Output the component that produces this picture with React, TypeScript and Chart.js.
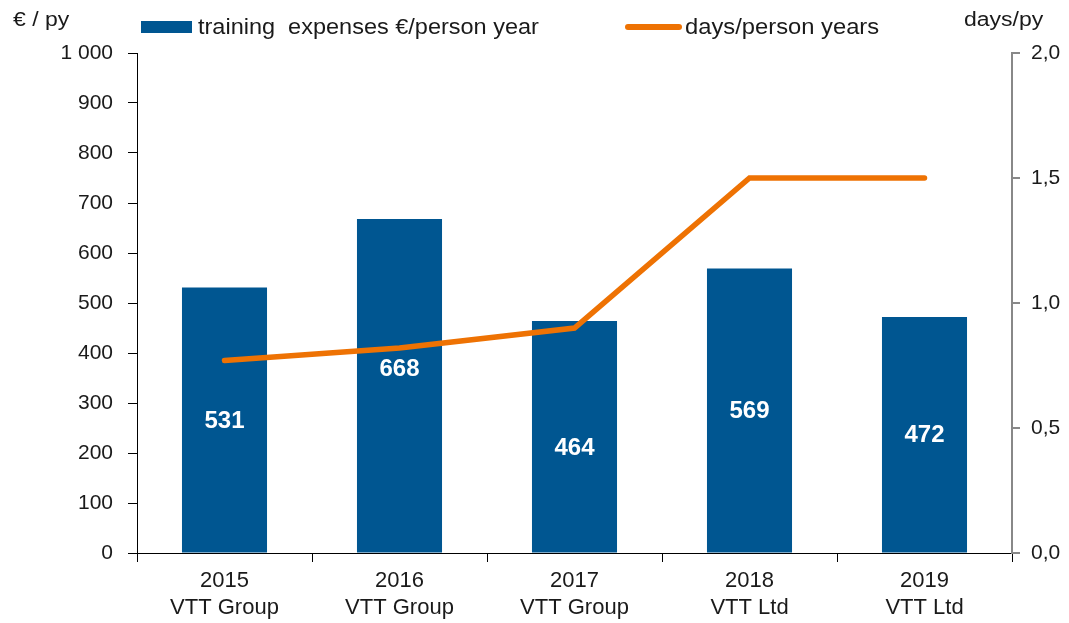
import React, { useEffect, useRef } from 'react';
import { Chart, registerables } from 'chart.js';

Chart.register(...registerables);

const years = ['2015', '2016', '2017', '2018', '2019'];
const entities = ['VTT Group', 'VTT Group', 'VTT Group', 'VTT Ltd', 'VTT Ltd'];
const expenses = [531, 668, 464, 569, 472];
const daysPerPy = [0.77, 0.82, 0.9, 1.5, 1.5];
const barLabel = 'training  expenses €/person year';
const lineLabel = 'days/person years';
const leftTitle = '€ / py';
const rightTitle = 'days/py';

// pixel nudges for value labels inside bars (relative to bar middle)
const labelNudge = [1, -16, 12, 1, 1];

const FONT = "'Liberation Sans', Arial, sans-serif";
const BLUE = '#005691';
const ORANGE = '#EE7203';
const TEXT = '#1a1a1a';

function drawStretched(ctx: CanvasRenderingContext2D, text: string, x: number, y: number, sx: number) {
  ctx.save();
  ctx.translate(x, y);
  ctx.scale(sx, 1);
  ctx.fillText(text, 0, 0);
  ctx.restore();
}

export default function App() {
  const ref = useRef<HTMLCanvasElement | null>(null);

  useEffect(() => {
    const canvas = ref.current;
    if (!canvas) return;

    const overlay = {
      id: 'overlay',
      afterDatasetsDraw(chart: any) {
        const ctx = chart.ctx;
        const meta = chart.getDatasetMeta(0);
        ctx.save();
        ctx.fillStyle = '#ffffff';
        ctx.font = `bold 24px ${FONT}`;
        ctx.textAlign = 'center';
        ctx.textBaseline = 'middle';
        meta.data.forEach((bar: any, i: number) => {
          const mid = (bar.y + bar.base) / 2 + labelNudge[i];
          ctx.fillText(String(expenses[i]), bar.x, mid);
        });
        ctx.restore();
      },
      afterDraw(chart: any) {
        const ctx = chart.ctx;
        ctx.save();
        // legend
        ctx.fillStyle = BLUE;
        ctx.fillRect(141, 21, 51, 12);
        ctx.fillStyle = TEXT;
        ctx.font = `22px ${FONT}`;
        ctx.textBaseline = 'middle';
        ctx.textAlign = 'left';
        drawStretched(ctx, barLabel, 198, 28, 1.068);
        ctx.strokeStyle = ORANGE;
        ctx.lineWidth = 6;
        ctx.lineCap = 'round';
        ctx.beginPath();
        ctx.moveTo(628, 27);
        ctx.lineTo(679, 27);
        ctx.stroke();
        drawStretched(ctx, lineLabel, 685, 28, 1.08);
        // axis titles
        ctx.font = `20px ${FONT}`;
        drawStretched(ctx, leftTitle, 13, 20, 1.15);
        drawStretched(ctx, rightTitle, 964, 20, 1.15);
        ctx.restore();
      },
    };

    const chart = new Chart(canvas, {
      type: 'bar',
      data: {
        labels: years.map((y, i) => [y, entities[i]]),
        datasets: [
          {
            type: 'bar',
            label: barLabel,
            data: expenses,
            backgroundColor: BLUE,
            barPercentage: 0.486,
            categoryPercentage: 1,
            yAxisID: 'y',
            order: 2,
          },
          {
            type: 'line',
            label: lineLabel,
            data: daysPerPy,
            borderColor: ORANGE,
            borderWidth: 5.5,
            borderCapStyle: 'round',
            borderJoinStyle: 'miter',
            pointRadius: 0,
            tension: 0,
            yAxisID: 'y1',
            order: 1,
          },
        ],
      },
      options: {
        responsive: false,
        animation: false,
        layout: { padding: { top: 53, left: 0, right: 0, bottom: 0 } },
        plugins: {
          legend: { display: false },
          tooltip: { enabled: false },
        },
        scales: {
          x: {
            grid: {
              offset: true,
              drawOnChartArea: false,
              drawTicks: true,
              tickLength: 9,
              color: '#000',
            },
            border: { display: true, color: '#000', width: 1 },
            ticks: {
              font: { family: FONT, size: 22 },
              color: TEXT,
              padding: 6,
              maxRotation: 0,
              autoSkip: false,
            },
            afterFit: (s: any) => {
              s.height = 70;
            },
          },
          y: {
            position: 'left',
            min: 0,
            max: 1000,
            grid: {
              drawOnChartArea: false,
              drawTicks: true,
              tickLength: 9,
              color: '#000',
            },
            border: { display: true, color: '#000', width: 1 },
            ticks: {
              stepSize: 100,
              font: { family: FONT, size: 21 },
              color: TEXT,
              padding: 15,
              callback: (v: any) => String(v).replace(/\B(?=(\d{3})+(?!\d))/g, ' '),
            },
            afterFit: (s: any) => {
              s.width = 137;
            },
          },
          y1: {
            position: 'right',
            min: 0,
            max: 2,
            grid: {
              drawOnChartArea: false,
              drawTicks: true,
              tickLength: 8,
              color: '#888',
              lineWidth: 2,
            },
            border: { display: true, color: '#888', width: 2 },
            ticks: {
              stepSize: 0.5,
              font: { family: FONT, size: 21 },
              color: TEXT,
              padding: 11,
              callback: (v: any) => Number(v).toFixed(1).replace('.', ','),
            },
            afterFit: (s: any) => {
              s.width = 57;
            },
          },
        },
      } as any,
      plugins: [overlay],
    });

    return () => chart.destroy();
  }, []);

  return (
    <div style={{ position: 'absolute', left: 0, top: 0, width: 1069, height: 623, background: '#fff' }}>
      <canvas ref={ref} width={1069} height={623} />
    </div>
  );
}
